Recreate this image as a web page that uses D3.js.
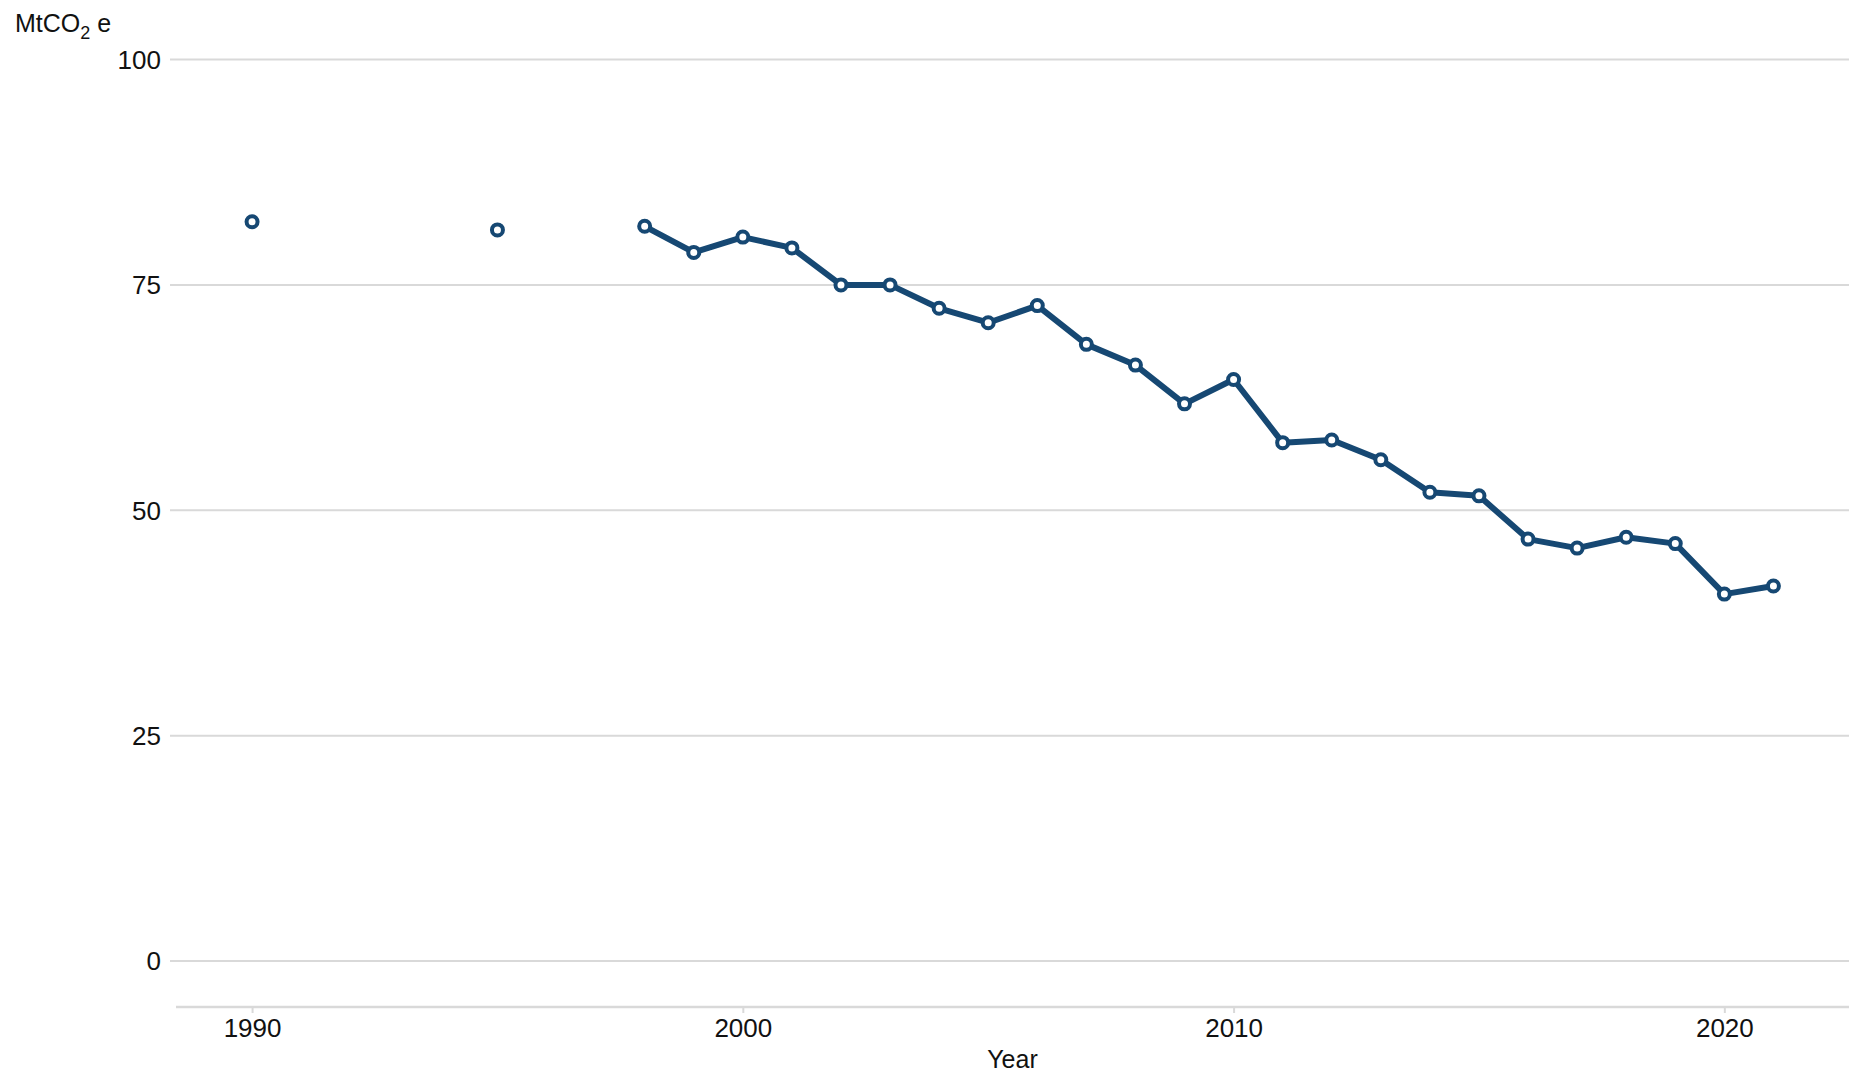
<!DOCTYPE html>
<html>
<head>
<meta charset="utf-8">
<script src="https://cdnjs.cloudflare.com/ajax/libs/d3/7.8.5/d3.min.js"></script>
<style>
  html, body { margin: 0; padding: 0; background: #ffffff; }
  svg { display: block; font-family: "Liberation Sans", Arial, sans-serif; }
</style>
</head>
<body>
<svg id="chart" width="1849" height="1073"></svg>
<script>
const years = [1990, 1995, 1998, 1999, 2000, 2001, 2002, 2003, 2004, 2005, 2006, 2007, 2008, 2009, 2010, 2011, 2012, 2013, 2014, 2015, 2016, 2017, 2018, 2019, 2020, 2021];
const emissions = [82.0, 81.1, 81.5, 78.6, 80.3, 79.1, 75.0, 75.0, 72.4, 70.8, 72.7, 68.4, 66.1, 61.8, 64.5, 57.5, 57.8, 55.6, 52.0, 51.6, 46.8, 45.8, 47.0, 46.3, 40.7, 41.6];
const yTicks = [0, 25, 50, 75, 100];
const xTicks = [1990, 2000, 2010, 2020];
const yLabel = ["MtCO", "2", " e"];
const xLabel = "Year";

const W = 1849, H = 1073;
const svg = d3.select("#chart");
const lineColor = "#164873";
const gridColor = "#d9d9d9";

const x = d3.scaleLinear().domain([1988.45, 2022.54]).range([176, 1849]);
const y = d3.scaleLinear().domain([0, 100]).range([961, 59.5]);

// gridlines
svg.append("g").selectAll("line").data(yTicks).join("line")
  .attr("x1", 170).attr("x2", W)
  .attr("y1", d => y(d)).attr("y2", d => y(d))
  .attr("stroke", gridColor).attr("stroke-width", 2);

// y tick labels
svg.append("g").selectAll("text").data(yTicks).join("text")
  .attr("x", 161).attr("y", d => y(d))
  .attr("dy", "0.36em")
  .attr("text-anchor", "end")
  .attr("font-size", 26)
  .attr("fill", "#111")
  .text(d => d);

// x axis
const xAxis = d3.axisBottom(x).tickValues(xTicks).tickFormat(d3.format("d")).tickSize(6).tickPadding(6);
const gx = svg.append("g").attr("transform", "translate(0,1007)").call(xAxis);
gx.select(".domain").attr("stroke", gridColor).attr("stroke-width", 2.5).attr("d", `M176,0H${W}`);
gx.selectAll(".tick line").attr("stroke", gridColor).attr("stroke-width", 2);
gx.selectAll(".tick text").attr("font-size", 26).attr("fill", "#111")
  .attr("font-family", "Liberation Sans, Arial, sans-serif");

svg.append("text")
  .attr("x", (176 + W) / 2).attr("y", 1068)
  .attr("text-anchor", "middle")
  .attr("font-size", 25).attr("fill", "#111")
  .text(xLabel);

// y label
const yl = svg.append("text").attr("x", 15).attr("y", 32).attr("font-size", 25).attr("fill", "#111");
yl.append("tspan").text(yLabel[0]);
yl.append("tspan").attr("font-size", 18).attr("dy", 7).text(yLabel[1]);
yl.append("tspan").attr("dy", -7).text(yLabel[2]);

// data and segments (connect consecutive years only)
const data = years.map((yr, i) => ({ year: yr, value: emissions[i] }));
const segments = [];
let cur = [];
data.forEach((d, i) => {
  if (i > 0 && d.year - data[i - 1].year > 1) { segments.push(cur); cur = []; }
  cur.push(d);
});
segments.push(cur);

const line = d3.line().x(d => x(d.year)).y(d => y(d.value));
svg.append("g").selectAll("path").data(segments.filter(s => s.length > 1)).join("path")
  .attr("d", line)
  .attr("fill", "none")
  .attr("stroke", lineColor)
  .attr("stroke-width", 6)
  .attr("stroke-linejoin", "round");

svg.append("g").selectAll("circle").data(data).join("circle")
  .attr("cx", d => x(d.year)).attr("cy", d => y(d.value))
  .attr("r", 5.5)
  .attr("fill", "#fff")
  .attr("stroke", lineColor)
  .attr("stroke-width", 4);
</script>
</body>
</html>
